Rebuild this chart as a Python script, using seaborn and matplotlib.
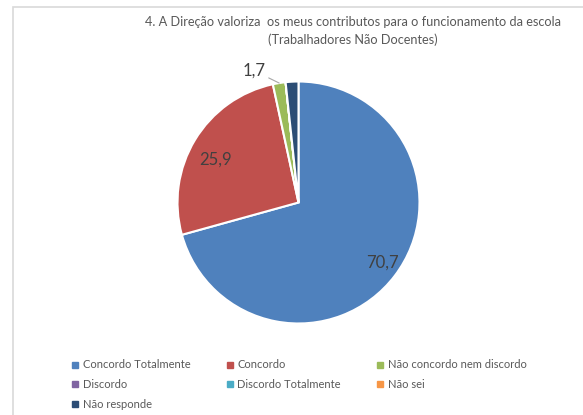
import matplotlib
matplotlib.use("Agg")
import matplotlib.pyplot as plt
import seaborn as sns
import numpy as np
from matplotlib.lines import Line2D
from matplotlib.patches import Rectangle

# data
categories = ["Concordo Totalmente", "Concordo", "Não concordo nem discordo",
              "Discordo", "Discordo Totalmente", "Não sei", "Não responde"]
values = [70.7, 25.9, 1.7, 0.0, 0.0, 0.0, 1.7]
value_labels = ["70,7", "25,9", "1,7", "", "", "", ""]
colors = ["#4F81BD", "#C0504D", "#9BBB59", "#8064A2", "#4BACC6", "#F79646", "#2C4D75"]

sns.set_style("white")
plt.rcParams['font.family'] = ['Lato', 'DejaVu Sans']

W, H = 583, 415
fig = plt.figure(figsize=(W / 100, H / 100), dpi=100)

# chart frame (light grey border at top/left)
fig.patches.append(Rectangle((13 / W, -0.1), 1.2, (H - 7) / H + 0.1,
                             transform=fig.transFigure, fill=False,
                             edgecolor="#D9D9D9", linewidth=1.2))

# pie axes: centre ~ (298.5, 202.5) px, radius ~121 px
cx, cy, r = 298.5, 202.5, 121
ax = fig.add_axes([(cx - r) / W, (H - cy - r) / H, 2 * r / W, 2 * r / H])
wedges, _ = ax.pie(values, colors=colors, startangle=90, counterclock=False,
                   radius=1.0,
                   wedgeprops=dict(edgecolor="white", linewidth=1.5))
ax.set_xlim(-1, 1)
ax.set_ylim(-1, 1)
ax.set_aspect("equal")
ax.axis("off")

# data labels (distance from centre, angle nudge in degrees)
label_pos = {0: (0.85, 1.5), 1: (0.77, 4.0)}
for i, (w, lab) in enumerate(zip(wedges, value_labels)):
    if not lab:
        continue
    mid_deg = (w.theta1 + w.theta2) / 2
    if i in label_pos:
        d, nudge = label_pos[i]
        mid = np.deg2rad(mid_deg + nudge)
        ax.text(d * np.cos(mid), d * np.sin(mid), lab, ha="center", va="center",
                fontsize=12, color="#404040")
    else:
        mid = np.deg2rad(mid_deg)
        ex, ey = np.cos(mid), np.sin(mid)
        ang = np.deg2rad(mid_deg + 9.5)
        tx, ty = 1.15 * np.cos(ang), 1.15 * np.sin(ang)
        ax.annotate(lab, xy=(ex, ey), xytext=(tx, ty), ha="center", va="center",
                    fontsize=12, color="#404040", annotation_clip=False,
                    arrowprops=dict(arrowstyle="-", color="#A6A6A6", lw=0.8,
                                    shrinkA=9, shrinkB=0))

# title
fig.text(353 / W, 1 - 31 / H,
         "4. A Direção valoriza  os meus contributos para o funcionamento da escola\n"
         "(Trabalhadores Não Docentes)",
         ha="center", va="center", fontsize=9.2, color="#595959", linespacing=1.45)

# legend, filled column-wise so it reads row by row
order = [0, 3, 6, 1, 4, 2, 5]
handles = [Line2D([], [], marker="s", linestyle="", markersize=4.5,
                  markerfacecolor=colors[i], markeredgecolor=colors[i]) for i in order]
labels = [categories[i] for i in order]
fig.legend(handles, labels, ncol=3, loc="upper left",
           bbox_to_anchor=(67 / W, 1 - 355 / H), frameon=False,
           fontsize=8, labelcolor="#595959", handlelength=0.6, handletextpad=0.4,
           columnspacing=3.25, labelspacing=0.8, borderaxespad=0)

fig.savefig("out.png", dpi=100)
